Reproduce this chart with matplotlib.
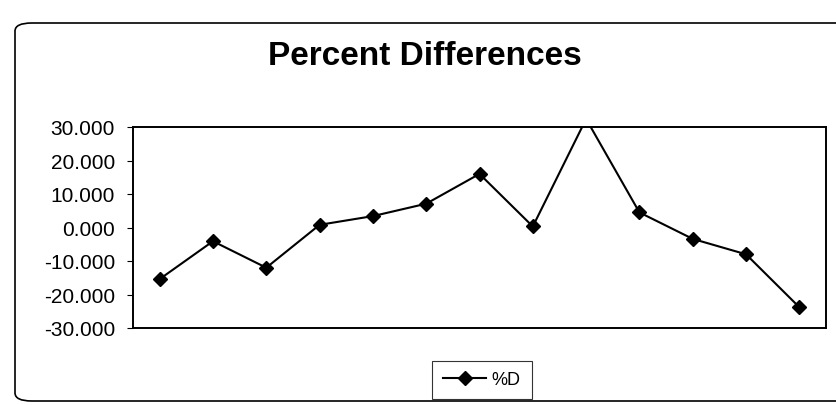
import matplotlib
matplotlib.use("Agg")
import matplotlib.pyplot as plt
from matplotlib.patches import FancyBboxPatch

# values (point 9 runs past the top of the axis)
points = list(range(1, 14))
pct_diff = [-15.4, -4.1, -12.0, 0.8, 3.4, 7.1, 16.0, 0.3, 32.4, 4.5, -3.4, -8.0, -23.8]
y_ticks = [30, 20, 10, 0, -10, -20, -30]

plt.rcParams["font.family"] = ["Liberation Sans", "DejaVu Sans"]

fig = plt.figure(figsize=(8.36, 4.06), dpi=100)
ax = fig.add_axes([133 / 836, 1 - 329 / 406, 693 / 836, 201 / 406])

ax.plot(points, pct_diff, color="black", lw=1.5, marker="D", ms=7,
        mfc="black", mec="black", label="%D", clip_on=True)

ax.set_xlim(0.5, 13.5)
ax.set_ylim(-30, 30)
ax.set_yticks(y_ticks)
ax.set_yticklabels([f"{v:.3f}" for v in y_ticks], fontsize=15)
ax.set_xticks([])
ax.tick_params(axis="y", length=4, width=0.8, pad=9)
for s in ax.spines.values():
    s.set_linewidth(1.4)
    s.set_color("black")

fig.text(425 / 836, 1 - 65 / 406, "Percent Differences", ha="center",
         va="baseline", fontsize=24, fontweight="heavy")

leg = fig.legend(loc="center", bbox_to_anchor=(482 / 836, 1 - 381 / 406),
                 fontsize=13, frameon=True, fancybox=False, handlelength=2.4,
                 borderpad=0.6, handletextpad=0.3, borderaxespad=0)
leg.get_frame().set_edgecolor("black")
leg.get_frame().set_linewidth(0.8)

# outer chart border with rounded corners, right side runs off the scan
border = FancyBboxPatch((15 / 836, 4 / 406), 840 / 836, 378 / 406,
                        boxstyle="round,pad=0,rounding_size=0.02",
                        transform=fig.transFigure, fill=False,
                        edgecolor="black", lw=1.2, clip_on=False)
fig.patches.append(border)

fig.savefig("out.png", dpi=100)
